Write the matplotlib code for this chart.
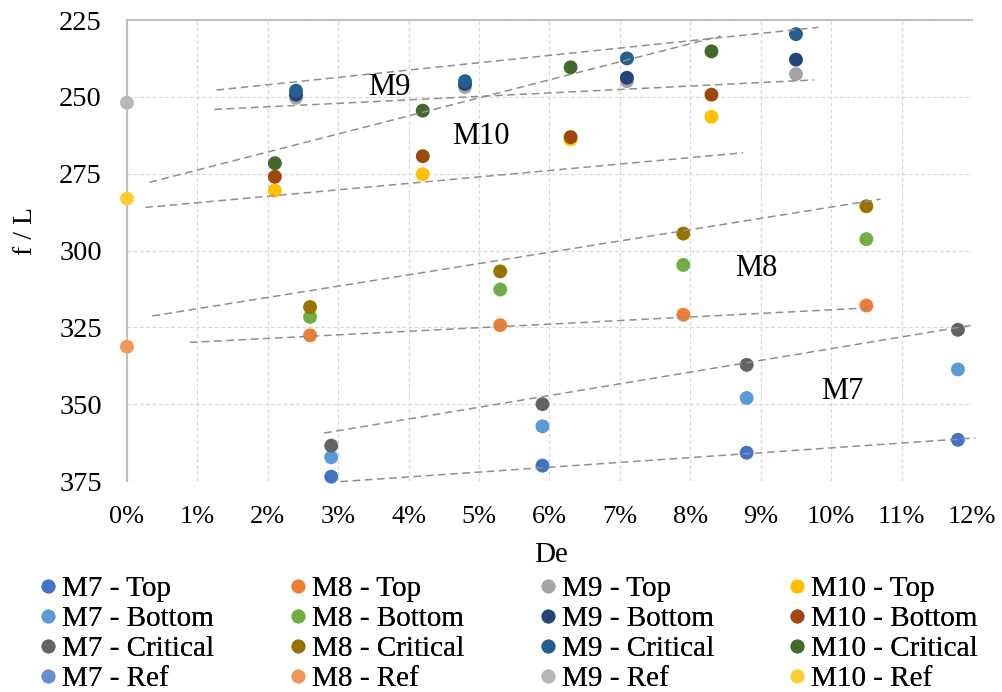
import matplotlib
matplotlib.use("Agg")
import matplotlib.pyplot as plt
from matplotlib.lines import Line2D
from matplotlib.ticker import FuncFormatter

plt.rcParams['font.family'] = ['Liberation Serif', 'DejaVu Serif']

# De values in percent
m7_x = [2.9, 5.9, 8.8, 11.8]
m7_top = [373.6, 370.0, 365.8, 361.6]
m7_bottom = [367.3, 357.2, 348.0, 338.7]
m7_critical = [363.5, 350.0, 337.2, 325.8]
m7_ref_x = []          # no visible point in the plotted range
m7_ref = []

m8_x = [2.6, 5.3, 7.9, 10.5]
m8_top = [327.6, 324.3, 320.9, 317.9]
m8_bottom = [321.6, 312.7, 304.7, 296.3]
m8_critical = [318.4, 306.8, 294.5, 285.6]
m8_ref_x = [0.0]
m8_ref = [331.3]

m9_x = [2.4, 4.8, 7.1, 9.5]
m9_top = [250.3, 246.8, 244.9, 242.6]
m9_bottom = [249.3, 245.8, 243.8, 237.9]
m9_critical = [248.0, 244.9, 237.5, 229.6]
m9_ref_x = [0.0]
m9_ref = [251.9]

m10_x = [2.1, 4.2, 6.3, 8.3]
m10_top = [280.5, 275.2, 263.8, 256.5]
m10_bottom = [276.0, 269.3, 263.1, 249.3]
m10_critical = [271.6, 254.5, 240.4, 235.2]
m10_ref_x = [0.0]
m10_ref = [283.1]

# hand drawn guide lines (start / end, in data units)
guide_x0 = [1.27, 1.24, 0.32, 0.26, 0.36, 0.89, 2.80, 3.03]
guide_y0 = [247.8, 254.1, 277.8, 286.0, 321.3, 329.9, 359.4, 375.2]
guide_x1 = [9.82, 9.76, 8.43, 8.75, 10.70, 10.60, 12.0, 12.05]
guide_y1 = [227.4, 244.5, 230.2, 268.2, 283.3, 318.6, 324.3, 361.0]

group_labels = ["M9", "M10", "M8", "M7"]
group_label_x = [3.73, 5.02, 8.93, 10.16]
group_label_y = [247.0, 262.8, 305.8, 345.8]

x_ticks = list(range(0, 13))
y_ticks = [225, 250, 275, 300, 325, 350, 375]

# Excel office palette
colors = {
    "M7 - Top": "#4472C4", "M8 - Top": "#ED7D31", "M9 - Top": "#A5A5A5", "M10 - Top": "#FFC000",
    "M7 - Bottom": "#5B9BD5", "M8 - Bottom": "#70AD47", "M9 - Bottom": "#264478", "M10 - Bottom": "#9E480E",
    "M7 - Critical": "#636363", "M8 - Critical": "#997300", "M9 - Critical": "#255E91", "M10 - Critical": "#43682B",
    "M7 - Ref": "#698ED0", "M8 - Ref": "#F1975A", "M9 - Ref": "#B7B7B7", "M10 - Ref": "#FFCD33",
}

# drawing order follows excel series order (row by row in its legend)
series = [
    ("M7 - Top", m7_x, m7_top), ("M8 - Top", m8_x, m8_top),
    ("M9 - Top", m9_x, m9_top), ("M10 - Top", m10_x, m10_top),
    ("M7 - Bottom", m7_x, m7_bottom), ("M8 - Bottom", m8_x, m8_bottom),
    ("M9 - Bottom", m9_x, m9_bottom), ("M10 - Bottom", m10_x, m10_bottom),
    ("M7 - Critical", m7_x, m7_critical), ("M8 - Critical", m8_x, m8_critical),
    ("M9 - Critical", m9_x, m9_critical), ("M10 - Critical", m10_x, m10_critical),
    ("M7 - Ref", m7_ref_x, m7_ref), ("M8 - Ref", m8_ref_x, m8_ref),
    ("M9 - Ref", m9_ref_x, m9_ref), ("M10 - Ref", m10_ref_x, m10_ref),
]

fig = plt.figure(figsize=(10.02, 6.92), dpi=100)
ax = fig.add_axes([127 / 1002, 1 - 481 / 692, 845 / 1002, 461 / 692])

for name, xs, ys in series:
    if len(xs) == 0:
        continue
    ax.scatter(xs, ys, s=100, color=colors[name], edgecolors='none',
               zorder=3, clip_on=False)

for x0, y0, x1, y1 in zip(guide_x0, guide_y0, guide_x1, guide_y1):
    ax.plot([x0, x1], [y0, y1], color='#8F8F8F', lw=1.1, ls=(0, (5, 3)), zorder=4, clip_on=False)

for t, tx, ty in zip(group_labels, group_label_x, group_label_y):
    ax.text(tx, ty, t, fontsize=22, ha='center', va='center', zorder=5)

ax.set_xlim(0, 12)
ax.set_ylim(375, 225)
ax.set_xticks(x_ticks)
ax.set_yticks(y_ticks)
ax.xaxis.set_major_formatter(FuncFormatter(lambda v, p: f"{v:.0f}%"))
ax.tick_params(axis='both', length=0)
ax.tick_params(axis='x', pad=18, labelsize=19)
ax.tick_params(axis='y', pad=18, labelsize=20.5)

ax.grid(True, color='#D9D9D9', ls=(0, (3, 2)), lw=0.9, zorder=0)
ax.set_axisbelow(True)
for side in ['bottom', 'right']:
    ax.spines[side].set_visible(False)
for side in ['top', 'left']:
    ax.spines[side].set_color('#BFBFBF')
    ax.spines[side].set_linewidth(1.5)

fig.text(551 / 1002, 1 - 555 / 692, "De", fontsize=21, ha='center', va='center')
fig.text(25 / 1002, 1 - 231 / 692, "f / L", fontsize=20, ha='center', va='center', rotation=90)

# legend: one column per group
groups = ["M7", "M8", "M9", "M10"]
parts = ["Top", "Bottom", "Critical", "Ref"]
col_left = [40, 290, 540, 789]
for g, left in zip(groups, col_left):
    names = [f"{g} - {p}" for p in parts]
    hs = [Line2D([], [], ls='none', marker='o', markersize=10, color=colors[n], markeredgewidth=0)
          for n in names]
    leg = fig.legend(hs, names, loc='upper left',
                     bbox_to_anchor=(left / 1002, 1 - 576 / 692), bbox_transform=fig.transFigure,
                     frameon=False, fontsize=21, handlelength=0.55, handletextpad=0.2,
                     labelspacing=0.12, borderpad=0, borderaxespad=0)
    fig.add_artist(leg)

fig.savefig("out.png", dpi=100)
